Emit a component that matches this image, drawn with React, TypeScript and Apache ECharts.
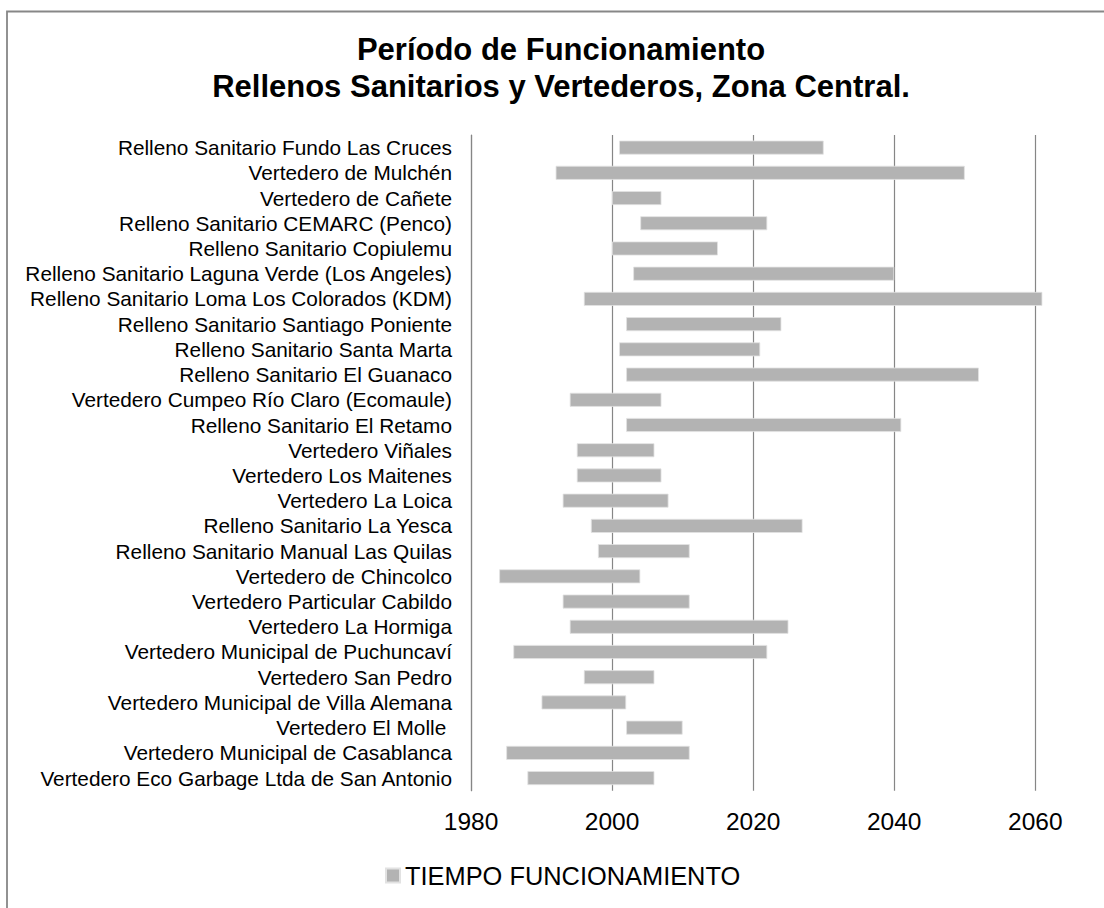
import React, { useEffect, useRef } from "react";
import * as echarts from "echarts";

const titleLines = [
  "Período de Funcionamiento",
  "Rellenos Sanitarios y Vertederos, Zona Central.",
];

const categories = [
  "Relleno Sanitario Fundo Las Cruces",
  "Vertedero de Mulchén",
  "Vertedero de Cañete",
  "Relleno Sanitario CEMARC (Penco)",
  "Relleno Sanitario Copiulemu",
  "Relleno Sanitario Laguna Verde (Los Angeles)",
  "Relleno Sanitario Loma Los Colorados (KDM)",
  "Relleno Sanitario Santiago Poniente",
  "Relleno Sanitario Santa Marta",
  "Relleno Sanitario El Guanaco",
  "Vertedero Cumpeo Río Claro (Ecomaule)",
  "Relleno Sanitario El Retamo",
  "Vertedero Viñales",
  "Vertedero Los Maitenes",
  "Vertedero La Loica",
  "Relleno Sanitario La Yesca",
  "Relleno Sanitario Manual Las Quilas",
  "Vertedero de Chincolco",
  "Vertedero Particular Cabildo",
  "Vertedero La Hormiga",
  "Vertedero Municipal de Puchuncaví",
  "Vertedero San Pedro",
  "Vertedero Municipal de Villa Alemana",
  "Vertedero El Molle ",
  "Vertedero Municipal de Casablanca",
  "Vertedero Eco Garbage Ltda de San Antonio",
];

const startYears = [
  2001, 1992, 2000, 2004, 2000, 2003, 1996, 2002, 2001, 2002, 1994, 2002, 1995,
  1995, 1993, 1997, 1998, 1984, 1993, 1994, 1986, 1996, 1990, 2002, 1985, 1988,
];

const endYears = [
  2030, 2050, 2007, 2022, 2015, 2040, 2061, 2024, 2021, 2052, 2007, 2041, 2006,
  2007, 2008, 2027, 2011, 2004, 2011, 2025, 2022, 2006, 2002, 2010, 2011, 2006,
];

const seriesName = "TIEMPO FUNCIONAMIENTO";

const axisMin = 1980;
const axisMax = 2060;
const axisStep = 20;

const FONT = "'Liberation Sans', Arial, sans-serif";

export default function App() {
  const ref = useRef<HTMLDivElement>(null);

  useEffect(() => {
    if (!ref.current) return;
    const chart = echarts.init(ref.current, null, { renderer: "svg" });
    const durations = endYears.map((e, i) => e - startYears[i]);

    chart.setOption({
      animation: false,
      backgroundColor: "#ffffff",
      textStyle: { fontFamily: FONT },
      graphic: [
        {
          type: "rect",
          shape: { x: 7, y: 11.5, width: 1300, height: 1100 },
          style: { fill: "none", stroke: "#878787", lineWidth: 1.8 },
          silent: true,
          z: -10,
        },
        {
          type: "text",
          x: 561,
          y: 49,
          style: {
            text: titleLines[0],
            fontSize: 31,
            fontWeight: "bold",
            fontFamily: FONT,
            fill: "#000",
            align: "center",
            verticalAlign: "middle",
          },
        },
        {
          type: "text",
          x: 561,
          y: 86,
          style: {
            text: titleLines[1],
            fontSize: 31,
            fontWeight: "bold",
            fontFamily: FONT,
            fill: "#000",
            align: "center",
            verticalAlign: "middle",
          },
        },
      ],
      legend: {
        data: [seriesName],
        left: 380,
        top: 858,
        icon: "rect",
        itemWidth: 14,
        itemHeight: 14,
        textStyle: { fontSize: 25.4, color: "#000", fontFamily: FONT },
        selectedMode: false,
      },
      grid: {
        left: 471,
        right: 68.7,
        top: 135,
        bottom: 117.3,
        containLabel: false,
      },
      xAxis: {
        type: "value",
        min: axisMin,
        max: axisMax,
        interval: axisStep,
        axisLine: { show: false },
        axisTick: { show: false },
        splitLine: { show: true, lineStyle: { color: "#868686", width: 1.2 } },
        axisLabel: {
          fontSize: 24.5,
          color: "#000",
          fontFamily: FONT,
          margin: 18,
          formatter: (v: number) => String(v),
        },
      },
      yAxis: {
        type: "category",
        inverse: true,
        data: categories,
        axisLine: { show: true, lineStyle: { color: "#868686", width: 1.2 } },
        axisTick: { show: false },
        splitLine: { show: false },
        axisLabel: {
          fontSize: 20.8,
          color: "#000",
          fontFamily: FONT,
          margin: 19,
          interval: 0,
        },
      },
      series: [
        {
          name: "base",
          type: "bar",
          stack: "period",
          data: startYears,
          barWidth: 14,
          itemStyle: { color: "rgba(0,0,0,0)" },
          silent: true,
          z: 1,
        },
        {
          name: seriesName,
          type: "bar",
          stack: "period",
          data: durations,
          barWidth: 14,
          clip: false,
          itemStyle: {
            color: "#b3b3b3",
            borderColor: "#e2e2e2",
            borderWidth: 0.8,
          },
          z: 3,
        },
      ],
    });

    return () => chart.dispose();
  }, []);

  return (
    <div
      ref={ref}
      style={{ position: "absolute", left: 0, top: 0, width: 1104, height: 908 }}
    />
  );
}
